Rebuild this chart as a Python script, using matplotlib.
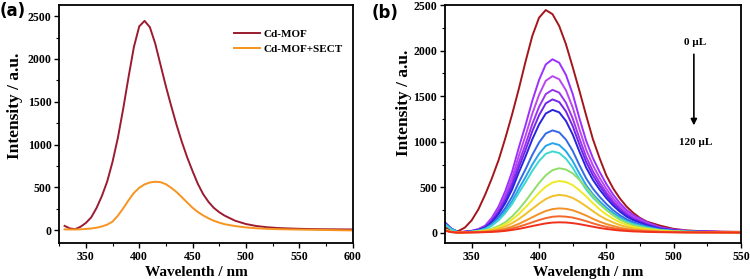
import matplotlib
matplotlib.use('Agg')
import matplotlib.pyplot as plt
from matplotlib.ticker import MultipleLocator

# ---- panel (a) data ----
wl_a = [330, 335, 340, 345, 350, 355, 360, 365, 370, 375, 380, 385, 390, 395, 400,
        405, 410, 415, 420, 425, 430, 435, 440, 445, 450, 455, 460, 465, 470, 475,
        480, 490, 500, 510, 520, 530, 540, 550, 560, 570, 580, 590, 600]
cd_mof = [50, 20, 12, 40, 85, 150, 260, 400, 570, 800, 1080, 1420, 1790, 2140, 2380,
          2445, 2370, 2180, 1930, 1680, 1450, 1230, 1030, 850, 690, 540, 420, 330, 260, 210,
          170, 110, 72, 48, 34, 25, 20, 16, 13, 11, 10, 9, 8]
cd_mof_sect = [10, 8, 8, 10, 14, 20, 29, 43, 65, 100, 170, 255, 350, 435, 495,
               535, 557, 566, 561, 537, 495, 445, 385, 322, 262, 212, 172, 138, 110, 88,
               70, 48, 32, 22, 16, 12, 9, 7, 5, 3, 1, -1, -3]
labels_a = ['Cd-MOF', 'Cd-MOF+SECT']
colors_a = ['#9b1b30', '#f7931e']

# ---- panel (b) data: 0 uL -> 120 uL ----
wl_b = [330, 335, 340, 345, 350, 355, 360, 365, 370, 375, 380, 385, 390, 395, 400,
        405, 410, 415, 420, 425, 430, 435, 440, 445, 450, 455, 460, 465, 470, 475,
        480, 490, 500, 510, 520, 535, 550]
c01 = [60, 30, 20, 60, 139, 260, 420, 600, 800, 1040, 1300, 1580, 1880, 2160, 2360,
       2445, 2400, 2270, 2070, 1820, 1560, 1290, 1030, 820, 630, 490, 380, 290, 220, 165,
       125, 80, 45, 28, 20, 14, 12]
c02 = [120, 45, 8, 15, 24, 43, 81, 167, 290, 461, 670, 936, 1183, 1449, 1677,
       1848, 1905, 1867, 1734, 1525, 1259, 1012, 822, 670, 537, 423, 328, 252, 195, 157,
       119, 62, 37, 24, 18, 13, 11]
c03 = [115, 45, 8, 14, 22, 39, 74, 151, 262, 417, 605, 845, 1068, 1308, 1514,
       1669, 1720, 1686, 1566, 1377, 1137, 914, 742, 605, 485, 382, 297, 228, 177, 142,
       108, 56, 34, 22, 17, 12, 10]
c04 = [112, 45, 8, 13, 21, 36, 68, 138, 240, 381, 553, 772, 975, 1194, 1382,
       1523, 1570, 1539, 1429, 1257, 1038, 834, 678, 553, 443, 349, 271, 208, 162, 130,
       99, 52, 32, 21, 16, 11, 10]
c05 = [110, 44, 8, 12, 20, 34, 63, 129, 224, 355, 516, 720, 910, 1115, 1290,
       1421, 1465, 1436, 1334, 1173, 969, 779, 633, 516, 414, 326, 253, 195, 151, 122,
       93, 49, 30, 20, 15, 11, 9]
c06 = [108, 44, 8, 12, 18, 32, 59, 119, 207, 328, 476, 664, 839, 1027, 1189,
       1310, 1350, 1323, 1229, 1081, 893, 718, 583, 476, 382, 301, 234, 180, 140, 113,
       86, 45, 28, 18, 14, 10, 9]
c07 = [105, 42, 8, 11, 16, 27, 50, 100, 173, 274, 397, 554, 699, 856, 991,
       1091, 1125, 1103, 1024, 901, 744, 599, 487, 397, 319, 251, 195, 151, 117, 95,
       72, 39, 24, 16, 13, 10, 8]
c08 = [100, 40, 7, 10, 15, 25, 44, 88, 152, 240, 348, 485, 613, 750, 867,
       956, 985, 965, 897, 789, 652, 524, 426, 348, 279, 221, 172, 132, 103, 83,
       64, 34, 22, 15, 12, 9, 8]
c09 = [95, 38, 7, 9, 14, 23, 41, 81, 139, 219, 317, 441, 557, 681, 788,
       868, 895, 877, 815, 717, 592, 477, 388, 317, 254, 201, 156, 121, 94, 76,
       58, 32, 20, 14, 11, 9, 8]
c10 = [40, 14, 5, 9, 12, 19, 30, 47, 76, 118, 181, 259, 350, 449, 548,
       632, 689, 710, 696, 654, 583, 499, 407, 322, 252, 195, 146, 111, 83, 65,
       51, 30, 19, 13, 11, 9, 7]
c11 = [36, 13, 5, 8, 11, 16, 25, 39, 62, 95, 146, 208, 282, 361, 440,
       508, 553, 570, 559, 525, 468, 401, 327, 259, 203, 158, 118, 90, 67, 53,
       42, 25, 16, 12, 10, 8, 7]
c12 = [33, 12, 5, 7, 9, 13, 19, 30, 46, 71, 108, 153, 207, 265, 322,
       372, 405, 417, 409, 384, 343, 293, 240, 190, 149, 116, 87, 67, 50, 40,
       32, 19, 13, 10, 8, 7, 6]
c13 = [30, 11, 4, 6, 8, 10, 14, 21, 32, 47, 71, 100, 135, 172, 209,
       241, 262, 270, 265, 249, 222, 191, 156, 124, 98, 77, 58, 45, 34, 28,
       22, 14, 10, 8, 7, 6, 6]
c14 = [28, 10, 4, 6, 7, 9, 11, 16, 23, 33, 50, 69, 92, 117, 142,
       163, 178, 183, 179, 169, 151, 130, 106, 85, 67, 53, 41, 32, 25, 20,
       17, 11, 9, 7, 6, 6, 6]
c15 = [25, 9, 4, 6, 6, 7, 9, 12, 16, 23, 33, 45, 60, 76, 91,
       105, 114, 117, 115, 108, 97, 83, 69, 55, 44, 35, 27, 22, 17, 15,
       12, 9, 7, 6, 6, 6, 5]
colors_b = ['#a3161b', '#9b30ff', '#b847f0', '#9a35ee', '#7424ec', '#2a24dc',
            '#3468e6', '#27a4ee', '#3fd8d0', '#8fde6a', '#eeea25', '#f0c02a',
            '#f39028', '#f2682c', '#f0301c']

curves_b = [c01, c02, c03, c04, c05, c06, c07, c08, c09, c10, c11, c12, c13, c14, c15]

tick_font = {'family': 'Liberation Serif', 'weight': 'bold', 'size': 8.5}
label_font = {'family': 'Liberation Serif', 'weight': 'bold', 'size': 11}
ylabel_font = {'family': 'Liberation Serif', 'weight': 'bold', 'size': 12.5}
note_font = {'family': 'Liberation Serif', 'weight': 'bold', 'size': 8}


def style_axes(ax):
    ax.xaxis.set_major_locator(MultipleLocator(50))
    ax.xaxis.set_minor_locator(MultipleLocator(25))
    ax.yaxis.set_major_locator(MultipleLocator(500))
    ax.yaxis.set_minor_locator(MultipleLocator(250))
    ax.tick_params(which='major', direction='out', length=3.5, width=1, pad=2)
    ax.tick_params(which='minor', direction='out', length=2, width=0.8)
    for sp in ax.spines.values():
        sp.set_linewidth(1.3)
    for lab in ax.get_xticklabels() + ax.get_yticklabels():
        lab.set_fontproperties(tick_font)


fig = plt.figure(figsize=(7.5, 2.79), dpi=100)

# ---- (a) ----
ax1 = fig.add_axes([0.079, 0.129, 0.391, 0.853])
ax1.plot(wl_a, cd_mof, color=colors_a[0], lw=1.4, label=labels_a[0])
ax1.plot(wl_a, cd_mof_sect, color=colors_a[1], lw=1.4, label=labels_a[1])
ax1.set_xlim(325, 600)
ax1.set_ylim(-150, 2630)
style_axes(ax1)
ax1.set_xlabel('Wavelenth / nm', fontdict=label_font)
ax1.set_ylabel('Intensity / a.u.', fontdict=ylabel_font)
ax1.xaxis.set_label_coords(0.468, -0.097)
ax1.yaxis.set_label_coords(-0.123, 0.578)
ax1.legend(loc='upper right', frameon=False, prop=note_font,
           handlelength=2.3, handletextpad=0.3, labelspacing=0.45,
           bbox_to_anchor=(1.0, 0.94))

# ---- (b) ----
ax2 = fig.add_axes([0.593, 0.129, 0.395, 0.853])
for ys, c in zip(curves_b, colors_b):
    ax2.plot(wl_b, ys, color=c, lw=1.4)
ax2.set_xlim(330, 550)
ax2.set_ylim(-110, 2500)
style_axes(ax2)
ax2.set_xlabel('Wavelength / nm', fontdict=label_font)
ax2.set_ylabel('Intensity / a.u.', fontdict=ylabel_font)
ax2.xaxis.set_label_coords(0.483, -0.097)
ax2.yaxis.set_label_coords(-0.111, 0.587)

ax2.text(516, 2090, '0 µL', ha='center', va='center', fontdict=note_font)
ax2.annotate('', xy=(515, 1150), xytext=(515, 1990),
             arrowprops=dict(arrowstyle='-|>', color='black', lw=1.2,
                             mutation_scale=9))
ax2.text(516, 995, '120 µL', ha='center', va='center', fontdict=note_font)

fig.text(0.0, 0.96, '(a)', fontsize=12, fontweight='bold', family='DejaVu Sans', va='center')
fig.text(0.495, 0.955, '(b)', fontsize=12, fontweight='bold', family='DejaVu Sans', va='center')

fig.savefig('out.png', dpi=100)
